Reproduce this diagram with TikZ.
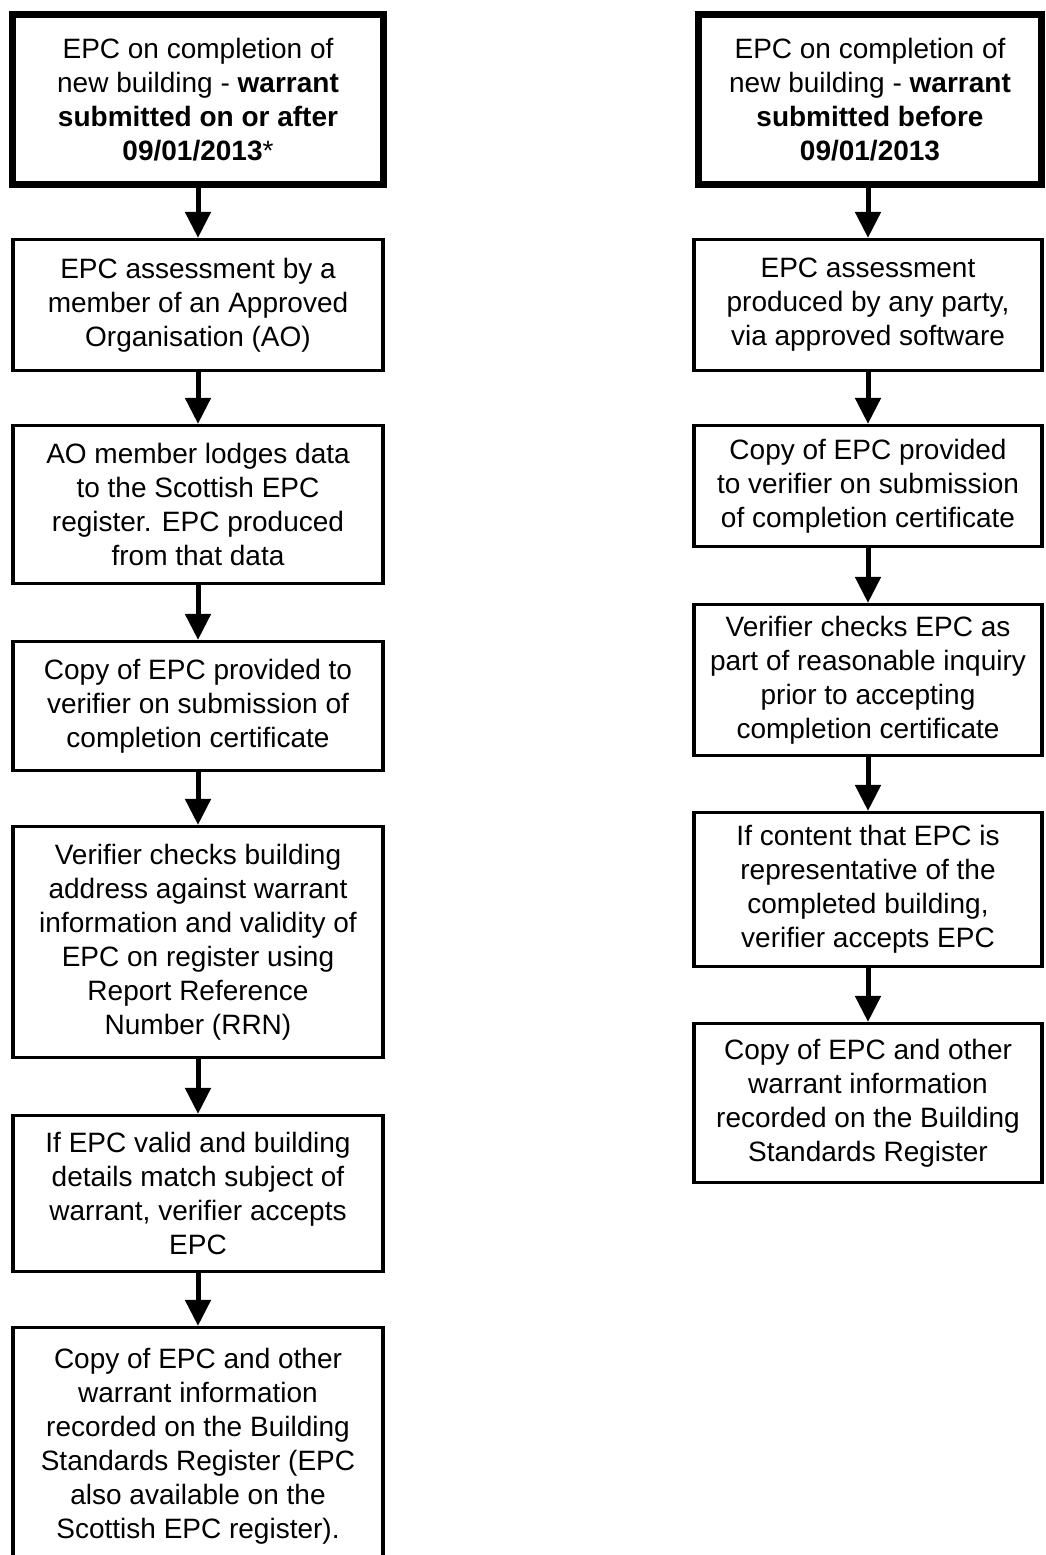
\documentclass[tikz,border=0pt]{standalone}
\usepackage{fontspec}
\setmainfont{Liberation Sans}
\usetikzlibrary{arrows.meta}
\begin{document}
\begin{tikzpicture}[x=1bp,y=-1bp,
  basebox/.style={draw=black, inner sep=0pt, align=center,
    font=\fontsize{28bp}{34bp}\selectfont},
  thinbox/.style={basebox, line width=3.2bp},
  thickbox/.style={basebox, line width=7bp},
  arr/.style={draw=black, line width=5bp, -{Triangle[width=25bp,length=26bp]}}]
\useasboundingbox[fill=white] (0,0) rectangle (1045,1555);
% left column
\node[thickbox, minimum width=370bp, minimum height=169bp] (L1) at (198,99.5)
  {EPC on completion of\\new building - \textbf{warrant}\\\textbf{submitted on or after}\\\textbf{09/01/2013}*};
\node[thinbox, minimum width=370bp, minimum height=131bp] (L2) at (198,305)
  {EPC assessment by a\\member of an Approved\\Organisation (AO)};
\node[thinbox, minimum width=370bp, minimum height=158bp] (L3) at (198,504.5)
  {AO member lodges data\\to the Scottish EPC\\register. EPC produced\\from that data};
\node[thinbox, minimum width=370bp, minimum height=129bp] (L4) at (198,706)
  {Copy of EPC provided to\\verifier on submission of\\completion certificate};
\node[thinbox, minimum width=370bp, minimum height=231bp] (L5) at (198,942)
  {Verifier checks building\\address against warrant\\information and validity of\\EPC on register using\\Report Reference\\Number (RRN)};
\node[thinbox, minimum width=370bp, minimum height=156bp] (L6) at (198,1193.5)
  {If EPC valid and building\\details match subject of\\warrant, verifier accepts\\EPC};
\node[thinbox, minimum width=370bp, minimum height=237bp] (L7) at (198,1446)
  {Copy of EPC and other\\warrant information\\recorded on the Building\\Standards Register (EPC\\also available on the\\Scottish EPC register).};
% right column
\node[thickbox, minimum width=343bp, minimum height=169bp] (R1) at (870,99.5)
  {EPC on completion of\\new building - \textbf{warrant}\\\textbf{submitted before}\\\textbf{09/01/2013}};
\node[thinbox, minimum width=348bp, minimum height=131bp] (R2) at (868,305)
  {EPC assessment\\produced by any party,\\via approved software};
\node[thinbox, minimum width=348bp, minimum height=121bp] (R3) at (868,486)
  {Copy of EPC provided\\to verifier on submission\\of completion certificate};
\node[thinbox, minimum width=348bp, minimum height=151bp] (R4) at (868,680)
  {Verifier checks EPC as\\part of reasonable inquiry\\prior to accepting\\completion certificate};
\node[thinbox, minimum width=348bp, minimum height=154bp] (R5) at (868,889.5)
  {If content that EPC is\\representative of the\\completed building,\\verifier accepts EPC};
\node[thinbox, minimum width=348bp, minimum height=159bp] (R6) at (868,1103)
  {Copy of EPC and other\\warrant information\\recorded on the Building\\Standards Register};
% connectors
\draw[arr] (L1.south) -- (L2.north);
\draw[arr] (L2.south) -- (L3.north);
\draw[arr] (L3.south) -- (L4.north);
\draw[arr] (L4.south) -- (L5.north);
\draw[arr] (L5.south) -- (L6.north);
\draw[arr] (L6.south) -- (L7.north);
\draw[arr] (R2.north |- R1.south) -- (R2.north);
\draw[arr] (R2.south) -- (R3.north);
\draw[arr] (R3.south) -- (R4.north);
\draw[arr] (R4.south) -- (R5.north);
\draw[arr] (R5.south) -- (R6.north);
\end{tikzpicture}
\end{document}
